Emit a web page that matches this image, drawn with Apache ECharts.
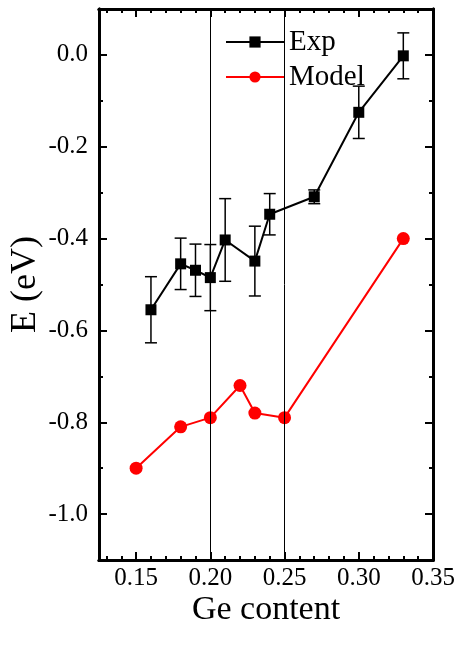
<!DOCTYPE html>
<html>
<head>
<meta charset="utf-8">
<script src="https://cdn.jsdelivr.net/npm/echarts@6/dist/echarts.min.js"></script>
<style>
	html, body { margin: 0; padding: 0; background: #fff; }
	#chart { width: 459px; height: 653px; }
</style>
</head>
<body>
<div id="chart"></div>
<script>
	// Ge content values
	var expX = [0.16, 0.18, 0.19, 0.20, 0.21, 0.23, 0.24, 0.27, 0.30, 0.33];
	var expY = [-0.555, -0.455, -0.469, -0.485, -0.403, -0.449, -0.347, -0.309, -0.125, -0.002];
	var expErr = [0.072, 0.056, 0.057, 0.072, 0.090, 0.076, 0.045, 0.015, 0.057, 0.050];

	var modelX = [0.15, 0.18, 0.20, 0.22, 0.23, 0.25, 0.33];
	var modelY = [-0.90, -0.81, -0.79, -0.72, -0.78, -0.79, -0.40];

	var xMajor = [0.15, 0.20, 0.25, 0.30, 0.35];
	var xMinor = [0.13, 0.14, 0.16, 0.17, 0.18, 0.19, 0.21, 0.22, 0.23, 0.24, 0.26, 0.27, 0.28, 0.29, 0.31, 0.32, 0.33, 0.34];
	var yMajor = [-1.0, -0.8, -0.6, -0.4, -0.2, 0.0];
	var yMinor = [-1.1, -0.9, -0.7, -0.5, -0.3, -0.1, 0.1];
	var refLines = [0.20, 0.25];

	var font = 'Liberation Serif';

	function pairs(xs, ys) {
		return xs.map(function(x, i) { return [x, ys[i]]; });
	}

	function xAxisDef(pos, ticks, len, labels) {
		return {
			type: 'value', position: pos, min: 0.125, max: 0.35,
			splitLine: { show: false },
			axisLine: { show: true, onZero: false, lineStyle: { color: '#000', width: 3 } },
			axisTick: { show: true, inside: true, length: len, customValues: ticks, lineStyle: { color: '#000', width: 2 } },
			axisLabel: labels ? {
				show: true, customValues: xMajor, margin: 6,
				fontFamily: font, fontSize: 25, color: '#000',
				formatter: function(v) { return v.toFixed(2); }
			} : { show: false },
			name: labels ? 'Ge content' : '', nameLocation: 'middle', nameGap: 33, nameMoveOverlap: false,
			nameTextStyle: { fontFamily: font, fontSize: 34, color: '#000' }
		};
	}

	function yAxisDef(pos, ticks, len, labels) {
		return {
			type: 'value', position: pos, min: -1.1, max: 0.1,
			splitLine: { show: false },
			axisLine: { show: true, onZero: false, lineStyle: { color: '#000', width: 3 } },
			axisTick: { show: true, inside: true, length: len, customValues: ticks, lineStyle: { color: '#000', width: 2 } },
			axisLabel: labels ? {
				show: true, customValues: yMajor, margin: 11,
				fontFamily: font, fontSize: 25, color: '#000',
				formatter: function(v) { return v.toFixed(1); }
			} : { show: false },
			name: labels ? 'E (eV)' : '', nameLocation: 'middle', nameGap: 55, nameRotate: 90, nameMoveOverlap: false,
			nameTextStyle: { fontFamily: font, fontSize: 36, color: '#000' }
		};
	}

	var chart = echarts.init(document.getElementById('chart'));
	var option = {
		animation: false,
		backgroundColor: '#fff',
		grid: { left: 99, right: 26, top: 9, bottom: 93, outerBoundsMode: 'none', containLabel: false },
		legend: {
			orient: 'vertical', left: 225, top: 27, padding: 0,
			itemWidth: 58, itemHeight: 14, itemGap: 5,
			textStyle: { fontFamily: font, fontSize: 29, color: '#000', lineHeight: 30 },
			data: ['Exp', 'Model']
		},
		xAxis: [
			xAxisDef('bottom', xMajor, 8, true),
			xAxisDef('bottom', xMinor, 4, false),
			xAxisDef('top', xMajor, 8, false),
			xAxisDef('top', xMinor, 4, false)
		],
		yAxis: [
			yAxisDef('left', yMajor, 8, true),
			yAxisDef('left', yMinor, 4, false),
			yAxisDef('right', yMajor, 8, false),
			yAxisDef('right', yMinor, 4, false)
		],
		series: [
			{
				name: 'ref', type: 'line', data: [], silent: true,
				markLine: {
					symbol: 'none', silent: true, label: { show: false },
					lineStyle: { color: '#000', width: 1, type: 'solid' },
					data: refLines.map(function(x) { return { xAxis: x }; })
				}
			},
			{
				name: 'ExpErr', type: 'custom', z: 3,
				data: expX.map(function(x, i) { return [x, expY[i] - expErr[i], expY[i] + expErr[i]]; }),
				renderItem: function(params, api) {
					var lo = api.coord([api.value(0), api.value(1)]);
					var hi = api.coord([api.value(0), api.value(2)]);
					var w = 6;
					var st = { stroke: '#000', lineWidth: 1.5 };
					return {
						type: 'group',
						children: [
							{ type: 'line', shape: { x1: lo[0], y1: lo[1], x2: hi[0], y2: hi[1] }, style: st },
							{ type: 'line', shape: { x1: lo[0] - w, y1: lo[1], x2: lo[0] + w, y2: lo[1] }, style: st },
							{ type: 'line', shape: { x1: hi[0] - w, y1: hi[1], x2: hi[0] + w, y2: hi[1] }, style: st }
						]
					};
				}
			},
			{
				name: 'Exp', type: 'line', z: 4,
				data: pairs(expX, expY),
				symbol: 'rect', symbolSize: 11,
				lineStyle: { color: '#000', width: 2 },
				itemStyle: { color: '#000' }
			},
			{
				name: 'Model', type: 'line', z: 4,
				data: pairs(modelX, modelY),
				symbol: 'circle', symbolSize: 13,
				lineStyle: { color: '#ff0000', width: 2 },
				itemStyle: { color: '#ff0000' }
			}
		]
	};
	chart.setOption(option);
</script>
</body>
</html>
